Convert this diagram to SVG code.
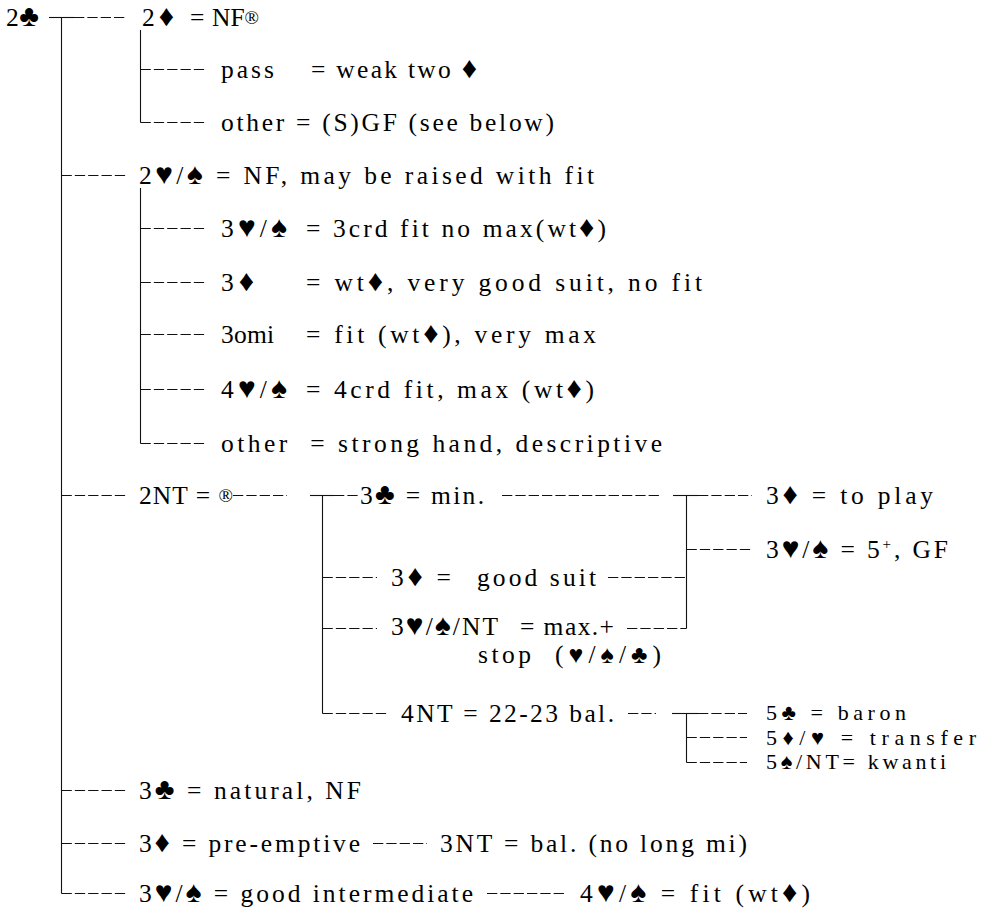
<svg xmlns="http://www.w3.org/2000/svg" width="982" height="910" viewBox="0 0 982 910" xml:space="preserve">
<style>
.t{font-family:"Liberation Serif","DejaVu Serif",serif;font-size:25.5px;fill:#000;white-space:pre}
.s{font-size:30px}
.sm{font-size:22px}
.ss{font-size:25px}
.sm .s{font-size:22px}
.sup{font-size:15px}
.r{font-size:19px}
#connectors line{stroke:#111;stroke-width:1.1;fill:none}
#connectors line.d{stroke-dasharray:10.3 3.03}
</style>
<rect width="982" height="910" fill="#fff"/>
<g id="connectors">
<line x1="61.5" y1="17.5" x2="61.5" y2="893.5"/>
<line x1="49" y1="17.5" x2="74" y2="17.5"/>
<line class="d" x1="74" y1="17.5" x2="127" y2="17.5"/>
<line x1="140.5" y1="30" x2="140.5" y2="122.5"/>
<line class="d" x1="140.5" y1="69.5" x2="205" y2="69.5"/>
<line class="d" x1="140.5" y1="122.5" x2="205" y2="122.5"/>
<line class="d" x1="61.5" y1="175.5" x2="126" y2="175.5"/>
<line x1="140.5" y1="188" x2="140.5" y2="443.5"/>
<line class="d" x1="140.5" y1="228.5" x2="205" y2="228.5"/>
<line class="d" x1="140.5" y1="282.5" x2="205" y2="282.5"/>
<line class="d" x1="140.5" y1="334.5" x2="205" y2="334.5"/>
<line class="d" x1="140.5" y1="389.5" x2="205" y2="389.5"/>
<line class="d" x1="140.5" y1="443.5" x2="205" y2="443.5"/>
<line class="d" x1="61.5" y1="495.5" x2="126" y2="495.5"/>
<line class="d" x1="233" y1="495.5" x2="287" y2="495.5"/>
<line x1="310" y1="495.5" x2="334" y2="495.5"/>
<line class="d" x1="334" y1="495.5" x2="358" y2="495.5"/>
<line x1="322.5" y1="495.5" x2="322.5" y2="713.5"/>
<line class="d" x1="322.5" y1="577.5" x2="377" y2="577.5"/>
<line class="d" x1="322.5" y1="628.5" x2="377" y2="628.5"/>
<line class="d" x1="322.5" y1="713.5" x2="388" y2="713.5"/>
<line class="d" x1="502" y1="495.5" x2="662" y2="495.5"/>
<line x1="673" y1="495.5" x2="698" y2="495.5"/>
<line class="d" x1="698" y1="495.5" x2="752" y2="495.5"/>
<line x1="686.5" y1="495.5" x2="686.5" y2="628.5"/>
<line class="d" x1="686.5" y1="549.5" x2="752" y2="549.5"/>
<line class="d" x1="608" y1="577.5" x2="686.5" y2="577.5"/>
<line class="d" x1="627" y1="628.5" x2="686.5" y2="628.5"/>
<line class="d" x1="628" y1="713.5" x2="656" y2="713.5"/>
<line x1="672" y1="713.5" x2="698" y2="713.5"/>
<line class="d" x1="698" y1="713.5" x2="747" y2="713.5"/>
<line x1="686.5" y1="713.5" x2="686.5" y2="762.5"/>
<line class="d" x1="686.5" y1="737.5" x2="747" y2="737.5"/>
<line class="d" x1="686.5" y1="762.5" x2="747" y2="762.5"/>
<line class="d" x1="61.5" y1="790.5" x2="126" y2="790.5"/>
<line class="d" x1="61.5" y1="843.5" x2="126" y2="843.5"/>
<line class="d" x1="373" y1="843.5" x2="427" y2="843.5"/>
<line class="d" x1="61.5" y1="893.5" x2="126" y2="893.5"/>
<line class="d" x1="487" y1="893.5" x2="567" y2="893.5"/>
</g>
<g id="n-2c"><text class="t" x="6" y="26" textLength="33" lengthAdjust="spacing">2<tspan class="s">♣</tspan></text></g>
<g id="n-2d"><text class="t" x="142" y="26" textLength="32" lengthAdjust="spacing">2<tspan class="s">♦</tspan></text><text class="t" x="190" y="26">=</text><text class="t" x="212" y="26">NF<tspan class="r" dy="-2">®</tspan></text></g>
<g id="n-2d-pass"><text class="t" x="221" y="78" textLength="53" lengthAdjust="spacing">pass</text><text class="t" x="311" y="78" textLength="166" lengthAdjust="spacing">= weak two <tspan class="s">♦</tspan></text></g>
<g id="n-2d-other"><text class="t" x="221" y="131" textLength="333" lengthAdjust="spacing">other = (S)GF (see below)</text></g>
<g id="n-2hs"><text class="t" x="139" y="184" textLength="455" lengthAdjust="spacing">2<tspan class="s">♥</tspan>/<tspan class="s">♠</tspan> = NF, may be raised with fit</text></g>
<g id="n-2hs-3hs"><text class="t" x="221" y="237" textLength="66" lengthAdjust="spacing">3<tspan class="s">♥</tspan>/<tspan class="s">♠</tspan></text><text class="t" x="306" y="237" textLength="300" lengthAdjust="spacing">= 3crd fit no max(wt<tspan class="s">♦</tspan>)</text></g>
<g id="n-2hs-3d"><text class="t" x="221" y="291" textLength="33" lengthAdjust="spacing">3<tspan class="s">♦</tspan></text><text class="t" x="306" y="291" textLength="396" lengthAdjust="spacing">= wt<tspan class="s">♦</tspan>, very good suit, no fit</text></g>
<g id="n-2hs-3omi"><text class="t" x="221" y="343" textLength="53" lengthAdjust="spacing">3omi</text><text class="t" x="306" y="343" textLength="290" lengthAdjust="spacing">= fit (wt<tspan class="s">♦</tspan>), very max</text></g>
<g id="n-2hs-4hs"><text class="t" x="221" y="398" textLength="66" lengthAdjust="spacing">4<tspan class="s">♥</tspan>/<tspan class="s">♠</tspan></text><text class="t" x="306" y="398" textLength="288" lengthAdjust="spacing">= 4crd fit, max (wt<tspan class="s">♦</tspan>)</text></g>
<g id="n-2hs-other"><text class="t" x="221" y="452" textLength="441" lengthAdjust="spacing">other  = strong hand, descriptive</text></g>
<g id="n-2nt"><text class="t" x="139" y="504" textLength="94" lengthAdjust="spacing">2NT = <tspan class="r" dy="-2">®</tspan></text></g>
<g id="n-2nt-3c"><text class="t" x="360" y="504" textLength="124" lengthAdjust="spacing">3<tspan class="s">♣</tspan> = min.</text></g>
<g id="n-3c-3d"><text class="t" x="766" y="504" textLength="167" lengthAdjust="spacing">3<tspan class="s">♦</tspan> = to play</text></g>
<g id="n-3c-3hs"><text class="t" x="766" y="558" textLength="182" lengthAdjust="spacing">3<tspan class="s">♥</tspan>/<tspan class="s">♠</tspan> = 5<tspan class="sup" dy="-9">+</tspan><tspan dy="9">, GF</tspan></text></g>
<g id="n-2nt-3d"><text class="t" x="391" y="586" textLength="60" lengthAdjust="spacing">3<tspan class="s">♦</tspan> =</text><text class="t" x="477" y="586" textLength="119" lengthAdjust="spacing">good suit</text></g>
<g id="n-2nt-3hsnt"><text class="t" x="391" y="635" textLength="107" lengthAdjust="spacing">3<tspan class="s">♥</tspan>/<tspan class="s">♠</tspan>/NT</text><text class="t" x="520" y="635" textLength="94" lengthAdjust="spacing">= max.+</text><text class="t" x="478" y="663" textLength="53" lengthAdjust="spacing">stop</text><text class="t" x="555" y="663" textLength="106" lengthAdjust="spacing">(<tspan class="ss">♥</tspan>/<tspan class="ss">♠</tspan>/<tspan class="ss">♣</tspan>)</text></g>
<g id="n-2nt-4nt"><text class="t" x="401" y="722" textLength="213" lengthAdjust="spacing">4NT = 22-23 bal.</text></g>
<g id="n-4nt-5c"><text class="t sm" x="766" y="720" textLength="140" lengthAdjust="spacing">5<tspan class="s">♣</tspan> = baron</text></g>
<g id="n-4nt-5dh"><text class="t sm" x="766" y="745" textLength="210" lengthAdjust="spacing">5<tspan class="s">♦</tspan>/<tspan class="s">♥</tspan> = transfer</text></g>
<g id="n-4nt-5snt"><text class="t sm" x="766" y="769" textLength="180" lengthAdjust="spacing">5<tspan class="s">♠</tspan>/NT= kwanti</text></g>
<g id="n-3c"><text class="t" x="139" y="799" textLength="222" lengthAdjust="spacing">3<tspan class="s">♣</tspan> = natural, NF</text></g>
<g id="n-3d"><text class="t" x="139" y="852" textLength="221" lengthAdjust="spacing">3<tspan class="s">♦</tspan> = pre-emptive</text></g>
<g id="n-3d-3nt"><text class="t" x="440" y="852" textLength="307" lengthAdjust="spacing">3NT = bal. (no long mi)</text></g>
<g id="n-3hs"><text class="t" x="139" y="902" textLength="334" lengthAdjust="spacing">3<tspan class="s">♥</tspan>/<tspan class="s">♠</tspan> = good intermediate</text></g>
<g id="n-3hs-4hs"><text class="t" x="580" y="902" textLength="230" lengthAdjust="spacing">4<tspan class="s">♥</tspan>/<tspan class="s">♠</tspan> = fit (wt<tspan class="s">♦</tspan>)</text></g>
</svg>
